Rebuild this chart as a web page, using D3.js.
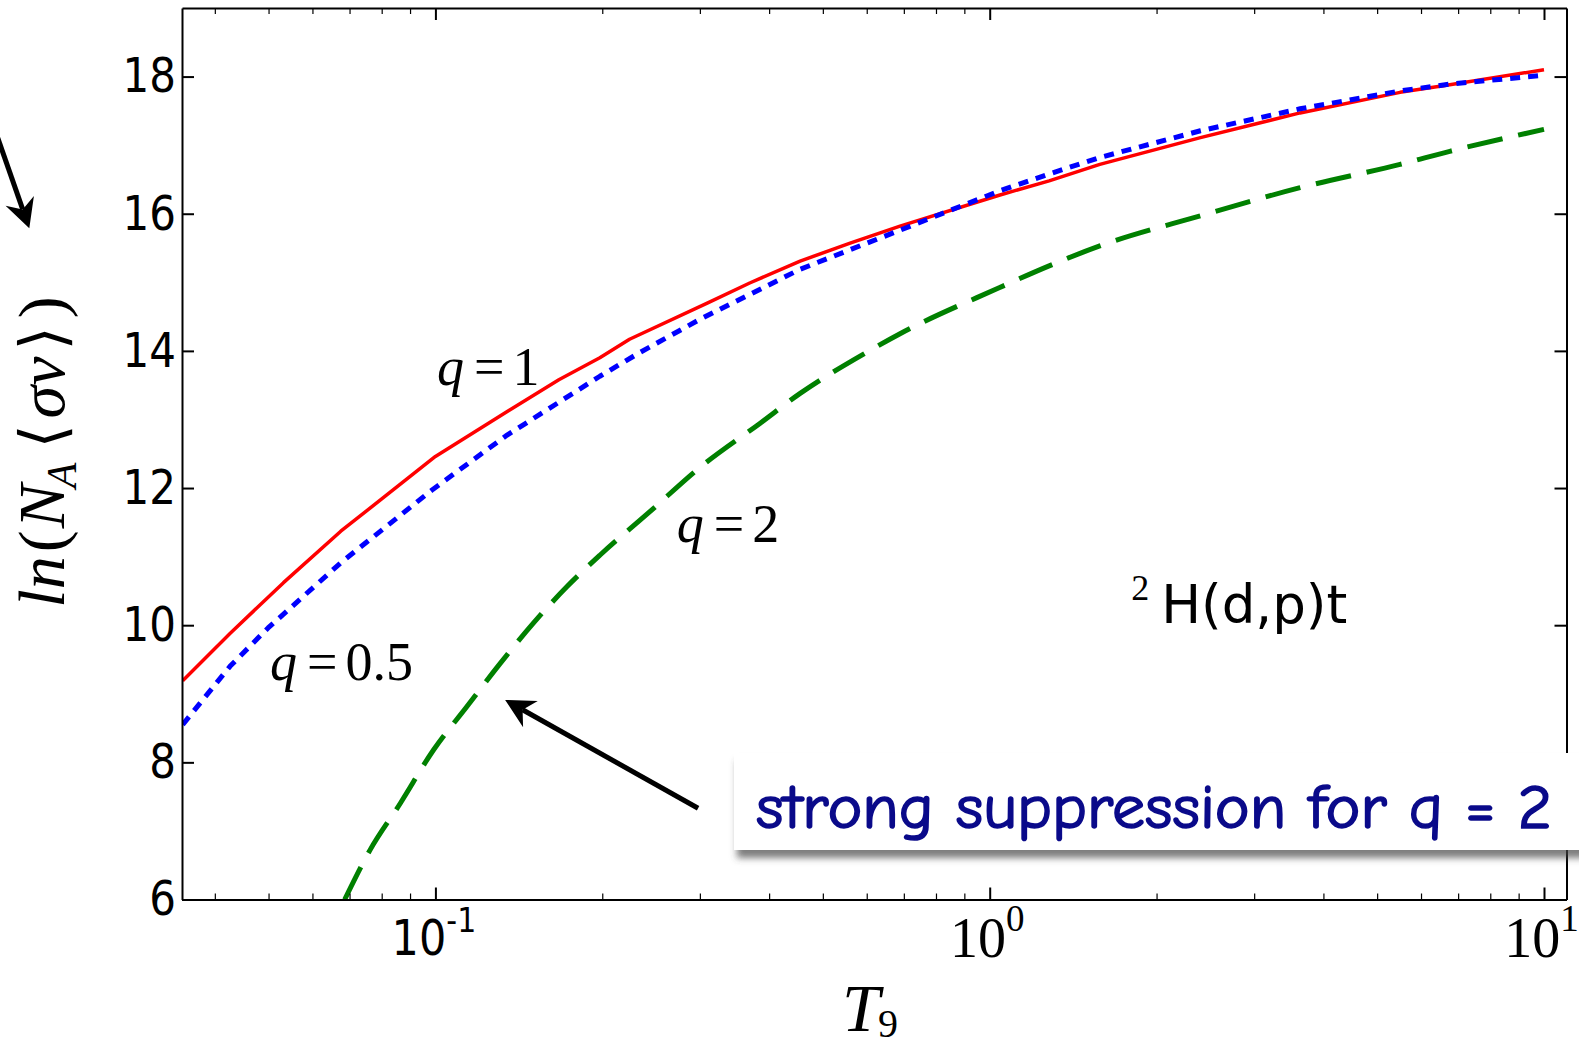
<!DOCTYPE html>
<html><head><meta charset="utf-8">
<script src="https://cdn.jsdelivr.net/npm/d3@7/dist/d3.min.js"></script>
<style>
html,body{margin:0;padding:0;background:#fff;overflow:hidden}
svg{display:block}
</style></head><body>
<svg id="chart" width="1579" height="1050"></svg>
<script>
// ---- data ----
const t9Q1 = [0.035, 0.0426, 0.0532, 0.0675, 0.1, 0.135, 0.167, 0.198, 0.224, 0.31, 0.369, 0.455, 0.560, 0.689, 1.04, 1.28, 1.58, 2.40, 3.63, 5.50, 6.76, 10];
const lnQ1 = [9.19, 9.88, 10.62, 11.37, 12.46, 13.12, 13.58, 13.90, 14.17, 14.70, 14.99, 15.31, 15.57, 15.82, 16.27, 16.48, 16.72, 17.11, 17.47, 17.77, 17.88, 18.10];
const t9Q05 = [0.035, 0.0426, 0.0499, 0.0675, 0.0989, 0.134, 0.170, 0.198, 0.233, 0.30, 0.455, 0.689, 1.04, 1.28, 1.58, 2.40, 3.63, 5.50, 6.76, 10];
const lnQ05 = [8.55, 9.40, 9.96, 10.91, 11.98, 12.76, 13.29, 13.63, 13.97, 14.46, 15.19, 15.76, 16.33, 16.58, 16.82, 17.21, 17.53, 17.79, 17.89, 18.02];
const t9Q2 = [0.0686, 0.0762, 0.0864, 0.0992, 0.1139, 0.1308, 0.1502, 0.1726, 0.198, 0.244, 0.300, 0.386, 0.455, 0.600, 0.689, 1.04, 1.28, 1.58, 2.40, 3.63, 5.50, 6.76, 10];
const lnQ2 = [6.0, 6.72, 7.40, 8.18, 8.81, 9.44, 10.03, 10.56, 11.02, 11.66, 12.30, 12.95, 13.38, 13.98, 14.25, 14.92, 15.24, 15.53, 15.97, 16.38, 16.72, 16.91, 17.23];
const yTickValues = [6, 8, 10, 12, 14, 16, 18];
const xMajorTicks = [0.1, 1, 10];
const xMajorExponents = ["-1", "0", "1"];
const xMinorTicks = [0.04,0.05,0.06,0.07,0.08,0.09,0.2,0.3,0.4,0.5,0.6,0.7,0.8,0.9,2,3,4,5,6,7,8,9];
const seriesNames = ["q=1", "q=0.5", "q=2"];

// ---- layout ----
const L = 182, R = 1566.5, T = 8, B = 899.5;
const x = d3.scaleLog().domain([0.0349, 10.98]).range([L, R]);
const y = d3.scaleLinear().domain([6, 19]).range([B, T]);
const svg = d3.select('#chart');
const defs = svg.append('defs');
defs.append('clipPath').attr('id','plotclip').append('rect')
  .attr('x',L).attr('y',T).attr('width',R-L).attr('height',B-T);
const f = defs.append('filter').attr('id','shadow').attr('x','-5%').attr('y','-30%').attr('width','115%').attr('height','170%');
f.append('feDropShadow').attr('dx',3).attr('dy',8).attr('stdDeviation',3.5)
  .attr('flood-color','#444').attr('flood-opacity',0.7);

// ---- curves ----
const series = [
  {t:t9Q1, v:lnQ1, color:'#ff0000', width:3.5, dash:null, curve:d3.curveLinear},
  {t:t9Q05, v:lnQ05, color:'#0000ff', width:5, dash:'10,8', curve:d3.curveLinear},
  {t:t9Q2, v:lnQ2, color:'#008000', width:5, dash:'36,16', curve:d3.curveMonotoneX}
];
const gCurves = svg.append('g').attr('clip-path','url(#plotclip)');
series.forEach((s,i)=>{
  const line = d3.line().x(d=>x(d[0])).y(d=>y(d[1])).curve(s.curve);
  gCurves.append('path').datum(d3.zip(s.t, s.v))
    .attr('d', line).attr('fill','none')
    .attr('stroke', s.color).attr('stroke-width', s.width)
    .attr('stroke-dasharray', s.dash)
    .attr('stroke-linejoin','round')
    .attr('class','series-'+i);
});

// ---- axes ----
function styleAxis(g, major){
  g.selectAll('.domain').attr('stroke','#000').attr('stroke-width',2);
  g.selectAll('.tick line').attr('stroke','#000').attr('stroke-width', major?2:1.2);
}
// bottom
const gBx = svg.append('g').attr('transform',`translate(0,${B})`)
  .call(d3.axisBottom(x).tickValues(xMajorTicks).tickSizeInner(-12).tickSizeOuter(0).tickFormat(()=>''));
styleAxis(gBx,true);
svg.append('g').attr('transform',`translate(0,${B})`)
  .call(d3.axisBottom(x).tickValues(xMinorTicks).tickSizeInner(-6).tickSizeOuter(0).tickFormat(()=>''))
  .call(g=>{g.select('.domain').remove(); styleAxis(g,false);});
// top
const gTx = svg.append('g').attr('transform',`translate(0,${T})`)
  .call(d3.axisTop(x).tickValues(xMajorTicks).tickSizeInner(-12).tickSizeOuter(0).tickFormat(()=>''));
styleAxis(gTx,true);
svg.append('g').attr('transform',`translate(0,${T})`)
  .call(d3.axisTop(x).tickValues(xMinorTicks).tickSizeInner(-6).tickSizeOuter(0).tickFormat(()=>''))
  .call(g=>{g.select('.domain').remove(); styleAxis(g,false);});
// left
const gLy = svg.append('g').attr('transform',`translate(${L},0)`)
  .call(d3.axisLeft(y).tickValues(yTickValues).tickSizeInner(-12).tickSizeOuter(0).tickPadding(6).tickFormat(d3.format('d')));
styleAxis(gLy,true);
gLy.selectAll('.tick text')
  .attr('font-family','"DejaVu Sans", sans-serif').attr('font-size',42).attr('fill','#000')
  .attr('transform','scale(1,1.14)');
// right
const gRy = svg.append('g').attr('transform',`translate(${R},0)`)
  .call(d3.axisRight(y).tickValues(yTickValues).tickSizeInner(-12).tickSizeOuter(0).tickFormat(()=>''));
styleAxis(gRy,true);

// x major tick labels (10^n)
gBx.selectAll('.tick').each(function(d,i){
  const g = d3.select(this);
  g.select('text').remove();
  if (i === 0) {
    const t = g.append('text').attr('text-anchor','middle')
      .attr('transform','translate(-2,55.5) scale(1,1.14)')
      .attr('font-family','"DejaVu Sans", sans-serif').attr('fill','#000');
    t.append('tspan').attr('font-size',43).text('10');
    t.append('tspan').attr('font-size',30).attr('dy',-20.4).text(xMajorExponents[i]);
  } else {
    const t = g.append('text').attr('text-anchor','middle')
      .attr('transform','translate(-3,57)')
      .attr('font-family','"Liberation Serif", serif').attr('fill','#000');
    t.append('tspan').attr('font-size',56).text('10');
    t.append('tspan').attr('font-size',37).attr('dy',-26).text(xMajorExponents[i]);
  }
});

// axis titles
const xl = svg.append('text').attr('x',870).attr('y',1031).attr('text-anchor','middle')
  .attr('font-family','"Liberation Serif", serif').attr('fill','#000');
xl.append('tspan').attr('font-style','italic').attr('font-size',68).text('T');
xl.append('tspan').attr('font-size',40).attr('dy',6).attr('dx',-2).text('9');

const yl = svg.append('text').attr('transform','translate(64,452) rotate(-90)')
  .attr('text-anchor','middle').attr('font-family','"Liberation Serif", serif')
  .attr('font-size',66).attr('fill','#000');
yl.append('tspan').attr('font-style','italic').text('ln');
yl.append('tspan').attr('dx',4).text('(');
yl.append('tspan').attr('font-style','italic').attr('dx',2).text('N');
yl.append('tspan').attr('font-style','italic').attr('font-size',42).attr('dy',12).attr('dx',-4).text('A');
yl.append('tspan').attr('dy',-12).attr('dx',14).attr('font-family','"DejaVu Serif", serif').attr('font-size',62).text('\u27E8');
yl.append('tspan').attr('font-style','italic').attr('dx',6).text('\u03C3v');
yl.append('tspan').attr('font-family','"DejaVu Serif", serif').attr('font-size',62).attr('dx',6).text('\u27E9');
yl.append('tspan').attr('dx',8).text(')');

// curve labels (math style)
function qLabel(xv, yv, val){
  const t = svg.append('text').attr('x',x(xv)).attr('y',y(yv))
    .attr('font-family','"Liberation Serif", serif').attr('font-size',54).attr('fill','#000');
  t.append('tspan').attr('font-style','italic').text('q');
  t.append('tspan').attr('dx',10).text('=');
  t.append('tspan').attr('dx',8).text(val);
}
qLabel(0.1007, 13.50, '1');
qLabel(0.0503, 9.20, '0.5');
qLabel(0.2726, 11.22, '2');

// reaction label
const rl = svg.append('text').attr('x',x(1.80)).attr('y',y(10.03)).attr('fill','#000');
rl.append('tspan').attr('font-family','"Liberation Serif", serif').attr('font-size',36).attr('dy',-23).text('2');
rl.append('tspan').attr('font-family','"DejaVu Sans", sans-serif').attr('font-size',53).attr('dy',23).attr('dx',12).text('H(d,p)t');

// arrows
function arrow(x1,y1,x2,y2){
  const dx=x2-x1, dy=y2-y1, len=Math.hypot(dx,dy), ux=dx/len, uy=dy/len;
  const Lh=29, Wh=15, Nh=20;
  const bx=x2-ux*Lh, by=y2-uy*Lh;
  const nx=x2-ux*Nh, ny=y2-uy*Nh;
  svg.append('line').attr('x1',x1).attr('y1',y1).attr('x2',nx).attr('y2',ny)
    .attr('stroke','#000').attr('stroke-width',5);
  svg.append('path').attr('d',`M${x2},${y2}L${bx-uy*Wh},${by+ux*Wh}L${nx},${ny}L${bx+uy*Wh},${by-ux*Wh}Z`)
    .attr('fill','#000');
}

// callout box
svg.append('rect').attr('x',734).attr('y',753).attr('width',870).attr('height',97)
  .attr('fill','#fff').attr('filter','url(#shadow)');
svg.append('text').attr('x',756).attr('y',828)
  .attr('font-family','"Comic Sans MS","Comic Neue","Noto Sans",sans-serif')
  .attr('font-size',62).attr('fill','#0a0a8a')
  .attr('stroke','#0a0a8a').attr('stroke-width',1.6)
  .attr('textLength',796).attr('lengthAdjust','spacingAndGlyphs')
  .text('strong suppression for q = 2');

arrow(x(0.2978), y(7.33), x(0.1336), y(8.91));
arrow(-20, 87, 29.3, 228.3);
</script>
</body></html>
